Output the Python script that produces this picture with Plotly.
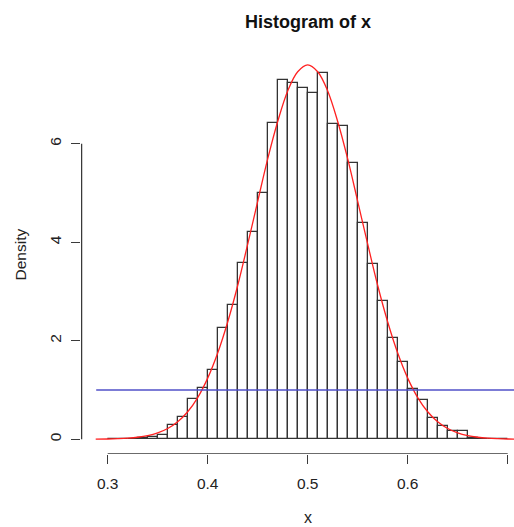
import plotly.graph_objects as go

# Histogram bins (left edges) and densities
bin_left = [0.30, 0.31, 0.32, 0.33, 0.34, 0.35, 0.36, 0.37, 0.38, 0.39,
            0.40, 0.41, 0.42, 0.43, 0.44, 0.45, 0.46, 0.47, 0.48, 0.49,
            0.50, 0.51, 0.52, 0.53, 0.54, 0.55, 0.56, 0.57, 0.58, 0.59,
            0.60, 0.61, 0.62, 0.63, 0.64, 0.65, 0.66, 0.67, 0.68, 0.69]
density = [0.0, 0.0, 0.005, 0.02, 0.05, 0.09, 0.28, 0.46, 0.82, 1.05,
           1.40, 2.25, 2.72, 3.57, 4.20, 4.99, 6.41, 7.29, 7.24, 7.13,
           7.02, 7.43, 6.39, 6.36, 5.60, 4.38, 3.56, 2.81, 2.05, 1.57,
           1.01, 0.80, 0.44, 0.27, 0.17, 0.17, 0.03, 0.01, 0.005, 0.0]
bin_width = 0.01

# Red density curve
curve_x = [0.288, 0.30, 0.31, 0.32, 0.33, 0.34, 0.35, 0.36, 0.37, 0.38, 0.39,
           0.40, 0.41, 0.42, 0.43, 0.44, 0.45, 0.46, 0.47, 0.48, 0.49,
           0.50, 0.51, 0.52, 0.53, 0.54, 0.55, 0.56, 0.57, 0.58, 0.59,
           0.60, 0.61, 0.62, 0.63, 0.64, 0.65, 0.66, 0.67, 0.68, 0.69,
           0.70, 0.71]
curve_y = [0.003, 0.005, 0.011, 0.021, 0.040, 0.073, 0.128, 0.217, 0.355, 0.558, 0.846,
           1.24, 1.75, 2.38, 3.12, 3.96, 4.83, 5.69, 6.45, 7.07, 7.46,
           7.60, 7.46, 7.07, 6.45, 5.69, 4.83, 3.96, 3.12, 2.38, 1.75,
           1.24, 0.846, 0.558, 0.355, 0.217, 0.128, 0.073, 0.040, 0.021, 0.011,
           0.005, 0.003]

# Blue horizontal reference line (uniform density)
hline_x = [0.2885, 0.71]
hline_y = [1, 1]

x_ticks = [0.3, 0.4, 0.5, 0.6, 0.7]
x_tick_text = ["0.3", "0.4", "0.5", "0.6", "0.7"]
y_ticks = [0, 2, 4, 6]
y_tick_text = ["0", "2", "4", "6"]

X_RANGE = [0.2733, 0.7063]
Y_RANGE = [-0.30, 7.80]

FONT = "Liberation Sans, Arial, Helvetica, sans-serif"
AXIS_COLOR = "#3a3a3a"

fig = go.Figure()
fig.add_trace(go.Bar(
    x=[b + bin_width / 2 for b in bin_left], y=density, width=bin_width,
    marker=dict(color="rgba(255,255,255,0)", line=dict(color="#333333", width=1.3)),
    hoverinfo="skip", showlegend=False,
))
fig.add_trace(go.Scatter(
    x=curve_x, y=curve_y, mode="lines", line=dict(color="#ff2020", width=1.3, shape="spline"),
    hoverinfo="skip", showlegend=False,
))
fig.add_trace(go.Scatter(
    x=hline_x, y=hline_y, mode="lines", line=dict(color="rgb(80,80,200)", width=1.5),
    hoverinfo="skip", showlegend=False,
))

# R-style axis lines that span only the tick range
fig.add_shape(type="line", xref="x", yref="y", x0=x_ticks[0], x1=x_ticks[-1],
              y0=Y_RANGE[0] + 0.004, y1=Y_RANGE[0] + 0.004,
              line=dict(color=AXIS_COLOR, width=1.3))
fig.add_shape(type="line", xref="x", yref="y", x0=X_RANGE[0] + 0.0006, x1=X_RANGE[0] + 0.0006,
              y0=y_ticks[0], y1=y_ticks[-1],
              line=dict(color=AXIS_COLOR, width=1.3))

fig.add_annotation(text="<b>Histogram of x</b>", xref="x", yref="paper", x=0.5,
                   y=1 + (55 - 22) / 399, yanchor="middle", xanchor="center", showarrow=False,
                   font=dict(family=FONT, size=18, color="#111111"))
fig.add_annotation(text="x", xref="x", yref="paper", x=0.5, y=-(517.5 - 454) / 399,
                   yanchor="middle", xanchor="center", showarrow=False,
                   font=dict(family=FONT, size=16, color="#222222"))
fig.add_annotation(text="Density", xref="paper", yref="paper", x=(20 - 81) / 433, y=0.5,
                   textangle=-90, yanchor="middle", xanchor="center", showarrow=False,
                   font=dict(family=FONT, size=15.5, color="#222222"))

fig.update_layout(
    width=514, height=527,
    margin=dict(l=81, r=0, t=55, b=73),
    paper_bgcolor="white", plot_bgcolor="white",
    bargap=0,
    font=dict(family=FONT, size=15, color="#222222"),
    xaxis=dict(range=X_RANGE, showgrid=False, zeroline=False, showline=False,
               tickmode="array", tickvals=x_ticks, ticktext=x_tick_text,
               ticks="outside", ticklen=9, tickwidth=1.3, tickcolor=AXIS_COLOR,
               ticklabelstandoff=6, tickfont=dict(family=FONT, size=15.5, color="#222222")),
    yaxis=dict(range=Y_RANGE, showgrid=False, zeroline=False, showline=False,
               tickmode="array", tickvals=y_ticks, ticktext=y_tick_text,
               ticks="outside", ticklen=9, tickwidth=1.3, tickcolor=AXIS_COLOR,
               tickangle=-90, ticklabelstandoff=4,
               tickfont=dict(family=FONT, size=15.5, color="#222222")),
)

fig.write_html("out.html")
